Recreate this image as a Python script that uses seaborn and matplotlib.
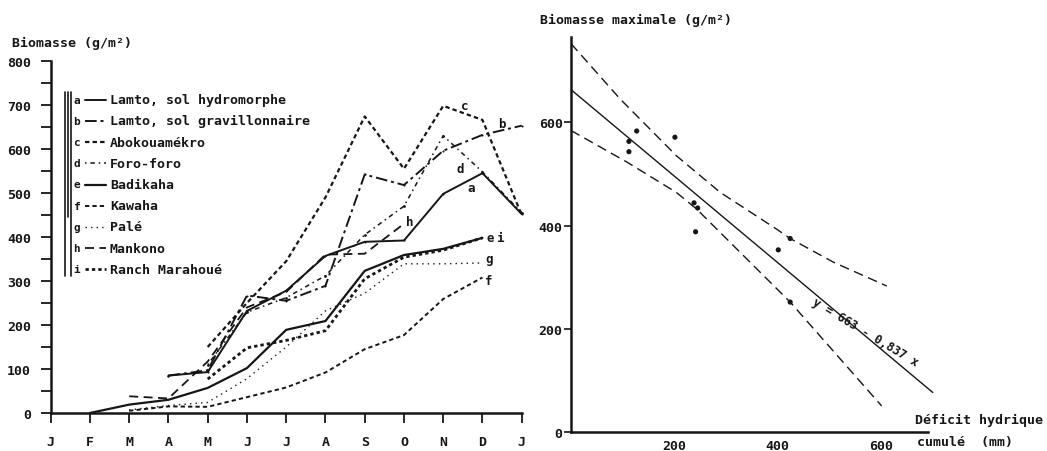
import matplotlib
matplotlib.use("Agg")
import matplotlib.pyplot as plt
import seaborn as sns
import pandas as pd

# Data
months = ["J", "F", "M", "A", "M", "J", "J", "A", "S", "O", "N", "D", "J"]

# month index (0 = January) and biomass (g/m2) for each station
a_x = [3, 4, 5, 6, 7, 8, 9, 10, 11, 12]
a_y = [85, 93, 232, 278, 357, 389, 392, 498, 545, 452]
b_x = [3, 4, 5, 6, 7, 8, 9, 10, 11, 12]
b_y = [85, 97, 267, 255, 289, 542, 518, 596, 632, 653]
c_x = [4, 5, 6, 7, 8, 9, 10, 11, 12]
c_y = [150, 250, 345, 490, 674, 555, 698, 666, 450]
d_x = [4, 5, 6, 7, 8, 9, 10, 11, 12]
d_y = [110, 229, 262, 312, 405, 470, 630, 548, 455]
e_x = [1, 2, 3, 4, 5, 6, 7, 8, 9, 10, 11]
e_y = [0, 19, 30, 57, 102, 189, 209, 323, 359, 373, 398]
f_x = [2, 3, 4, 5, 6, 7, 8, 9, 10, 11]
f_y = [5, 15, 14, 36, 58, 92, 145, 177, 259, 308]
g_x = [2, 3, 4, 5, 6, 7, 8, 9, 10, 11]
g_y = [7, 17, 24, 78, 150, 232, 272, 339, 339, 341]
h_x = [2, 3, 4, 5, 6, 7, 8, 9]
h_y = [38, 33, 117, 240, 275, 360, 362, 430]
i_x = [4, 5, 6, 7, 8, 9, 10, 11]
i_y = [77, 148, 165, 187, 305, 354, 370, 398]

stations = ["Lamto, sol hydromorphe", "Lamto, sol gravillonnaire", "Abokouamékro",
            "Foro-foro", "Badikaha", "Kawaha", "Palé", "Mankono", "Ranch Marahoué"]
letters = ["a", "b", "c", "d", "e", "f", "g", "h", "i"]

# right panel: cumulated water deficit (mm) vs maximum biomass
deficit = [112, 112, 127, 201, 238, 245, 241, 401, 424, 424]
biomax = [563, 543, 583, 571, 444, 434, 388, 353, 375, 252]
fit_x = [0, 700]
fit_y = [663, 77]
upper_x = [0, 95, 204, 289, 398, 424, 508, 611]
upper_y = [752, 645, 535, 464, 393, 375, 329, 283]
lower_x = [0, 108, 204, 243, 424, 601]
lower_y = [584, 523, 464, 432, 252, 51]

sns.set_style("white")
plt.rcParams["font.family"] = ["DejaVu Sans Mono", "DejaVu Sans"]
plt.rcParams["font.weight"] = "bold"

ink = "#161616"

fig = plt.figure(figsize=(10.47, 4.52), dpi=100)

# ---------------- left panel ----------------
ax1 = fig.add_axes([0.0484, 0.0841, 0.4499, 0.7788])

styles = {
    "a": dict(linestyle="-", lw=1.4, marker=".", ms=3),
    "b": dict(linestyle=(0, (6, 2, 1.5, 2)), lw=1.4, marker=".", ms=3),
    "c": dict(linestyle=(0, (2, 1.4)), lw=1.6),
    "d": dict(linestyle=(0, (1, 2.5, 3, 2.5)), lw=1.1, marker=".", ms=4),
    "e": dict(linestyle="-", lw=1.6),
    "f": dict(linestyle=(0, (2.2, 1.6)), lw=1.4),
    "g": dict(linestyle=(0, (1, 3)), lw=1.0),
    "h": dict(linestyle=(0, (5, 3)), lw=1.3),
    "i": dict(linestyle=(0, (1.2, 1.1)), lw=2.0),
}
series = {"a": (a_x, a_y), "b": (b_x, b_y), "c": (c_x, c_y), "d": (d_x, d_y),
          "e": (e_x, e_y), "f": (f_x, f_y), "g": (g_x, g_y), "h": (h_x, h_y),
          "i": (i_x, i_y)}

for key, (xs, ys) in series.items():
    df = pd.DataFrame({"mois": xs, "biomasse": ys})
    sns.lineplot(data=df, x="mois", y="biomasse", ax=ax1, color=ink,
                 clip_on=False, mew=0, **styles[key])

# curve letters
label_pos = {"a": (10.70, 512), "b": (11.49, 659), "c": (10.55, 698), "d": (10.43, 556),
             "e": (11.19, 398), "i": (11.45, 398), "g": (11.17, 350), "f": (11.15, 300),
             "h": (9.14, 435)}
for key, (lx, ly) in label_pos.items():
    ax1.text(lx, ly, key, fontsize=9, fontweight="bold", ha="center", va="center", color=ink)

ax1.set_xlim(0, 12)
ax1.set_ylim(0, 800)
ax1.set_xticks(range(13))
ax1.set_xticklabels(months)
ax1.set_yticks(range(0, 801, 100))
ax1.set_yticks(range(50, 800, 100), minor=True)
ax1.tick_params(axis="y", which="both", direction="out", length=7, width=1.3,
                pad=7, labelsize=9.5, color=ink, labelcolor=ink, left=True)
ax1.tick_params(axis="x", direction="out", length=7, width=1.3, pad=9,
                labelsize=9.5, color=ink, labelcolor=ink, bottom=True)
ax1.set_xlabel("")
ax1.set_ylabel("")
for s in ["top", "right"]:
    ax1.spines[s].set_visible(False)
for s in ["left", "bottom"]:
    ax1.spines[s].set_linewidth(1.8)
    ax1.spines[s].set_color(ink)

fig.text(12 / 1047, 1 - 43 / 452, "Biomasse (g/m²)", fontsize=9.5, fontweight="bold",
         ha="left", va="center", color=ink)

# ---------------- right panel ----------------
ax2 = fig.add_axes([0.5454, 0.0414, 0.348, 0.8746])
sns.lineplot(x=fit_x, y=fit_y, ax=ax2, color=ink, lw=1.0, clip_on=False)
sns.lineplot(x=upper_x, y=upper_y, ax=ax2, color=ink, lw=1.0,
             linestyle=(0, (7, 4)), clip_on=False)
sns.lineplot(x=lower_x, y=lower_y, ax=ax2, color=ink, lw=1.0,
             linestyle=(0, (7, 4)), clip_on=False)
sns.scatterplot(x=deficit, y=biomax, ax=ax2, color=ink, s=14, edgecolor="none",
                clip_on=False)

ax2.text(569, 194, "y = 663 - 0,837 x", fontsize=8.5, fontweight="bold",
         rotation=-31, ha="center", va="center", color=ink)

ax2.set_xlim(0, 705)
ax2.set_ylim(0, 765)
ax2.set_yticks([0, 200, 400, 600])
ax2.set_xticks([200, 400, 600])
ax2.tick_params(axis="y", direction="out", length=5, width=1.2, pad=1,
                labelsize=9.5, color=ink, labelcolor=ink, left=True)
ax2.tick_params(axis="x", length=0, pad=5, labelsize=9.5, labelcolor=ink)
for s in ["top", "right"]:
    ax2.spines[s].set_visible(False)
for s in ["left", "bottom"]:
    ax2.spines[s].set_linewidth(1.8)
    ax2.spines[s].set_color(ink)
ax2.spines["bottom"].set_bounds(0, 690)

fig.text(540 / 1047, 1 - 20 / 452, "Biomasse maximale (g/m²)", fontsize=9.5,
         fontweight="bold", ha="left", va="center", color=ink)
fig.text(915 / 1047, 1 - 420 / 452, "Déficit hydrique", fontsize=9.5,
         fontweight="bold", ha="left", va="center", color=ink)
fig.text(917 / 1047, 1 - 443 / 452, "cumulé  (mm)", fontsize=9.5,
         fontweight="bold", ha="left", va="center", color=ink)

# ---------------- legend drawn in pixel space ----------------
lg = fig.add_axes([0, 0, 1, 1])
lg.set_xlim(0, 1047)
lg.set_ylim(452, 0)
lg.axis("off")
lg.patch.set_alpha(0)

lg.plot([64.5, 64.5], [93, 277], color=ink, lw=1.2)
lg.plot([67.5, 67.5], [93, 218], color=ink, lw=1.2)
lg.plot([70.5, 70.5], [93, 277], color=ink, lw=1.2)

for k, (key, name) in enumerate(zip(letters, stations)):
    yy = 100.7 + 21.2 * k
    lg.text(77, yy, key, fontsize=8, fontweight="bold", ha="center", va="center", color=ink)
    st = dict(styles[key])
    st.pop("marker", None)
    st.pop("ms", None)
    lg.plot([85, 106], [yy, yy], color=ink, **st)
    lg.text(110, yy, name, fontsize=9.5, fontweight="bold", ha="left", va="center", color=ink)

fig.savefig("out.png", dpi=100)
